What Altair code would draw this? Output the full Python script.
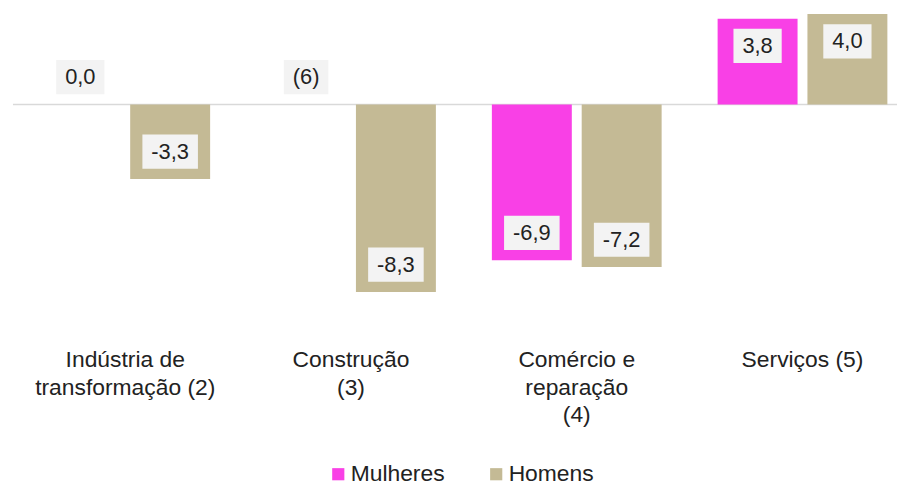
import altair as alt
import pandas as pd

categories = [
    "Indústria de\ntransformação (2)",
    "Construção\n(3)",
    "Comércio e\nreparação\n(4)",
    "Serviços (5)",
]
series = ["Mulheres", "Homens"]
mulheres = [0.0, None, -6.9, 3.8]
homens = [-3.3, -8.3, -7.2, 4.0]
mulheres_labels = ["0,0", "(6)", "-6,9", "3,8"]
homens_labels = ["-3,3", "-8,3", "-7,2", "4,0"]
colors = ["#F940E6", "#C4BA95"]

FONT = "Liberation Sans"
VAL_FS = 22
CHAR_EM = {",": 0.278, "-": 0.333, "(": 0.333, ")": 0.333}
OFF = 27.5


def box_path(label):
    w = 18 + VAL_FS * sum(CHAR_EM.get(c, 0.556) for c in label)
    hw = w / 2 / 20.0
    return f"M{-hw:.3f},-0.86H{hw:.3f}V0.86H{-hw:.3f}Z"


rows = []
for i, cat in enumerate(categories):
    rows.append({"cat": cat, "serie": series[0], "v": mulheres[i], "lab": mulheres_labels[i]})
    rows.append({"cat": cat, "serie": series[1], "v": homens[i], "lab": homens_labels[i]})
df = pd.DataFrame(rows)
df["shp"] = df["lab"].map(box_path)

x_enc = alt.X(
    "cat:N",
    sort=categories,
    scale=alt.Scale(domain=categories, paddingInner=0.248, paddingOuter=0.082, align=0.74),
    axis=alt.Axis(
        title=None,
        labelAngle=0,
        ticks=False,
        domain=False,
        labelPadding=50,
        labelFont=FONT,
        labelFontSize=23,
        labelColor="#222222",
        labelLineHeight=28,
        labelBaseline="top",
        labelLimit=0,
        labelExpr="split(datum.label, '\\n')",
    ),
)
xo_enc = alt.XOffset("serie:N", sort=series, scale=alt.Scale(domain=series, paddingInner=0.11, paddingOuter=0))
y_scale = alt.Scale(domain=[-8.6, 4.2], nice=False, zero=False)

base = alt.Chart(df)

zero_rule = alt.Chart(pd.DataFrame({"z": [0]})).mark_rule(color="#d9d9d9", strokeWidth=1.5).encode(
    y=alt.Y("z:Q", scale=y_scale, axis=None)
)

bars = base.mark_bar().encode(
    x=x_enc,
    xOffset=xo_enc,
    y=alt.Y("v:Q", scale=y_scale, axis=None),
    color=alt.Color(
        "serie:N",
        sort=series,
        scale=alt.Scale(domain=series, range=colors),
        legend=alt.Legend(
            title=None,
            orient="none",
            legendX=316,
            legendY=456,
            direction="horizontal",
            symbolType="square",
            symbolSize=150,
            symbolStrokeWidth=0,
            labelFont=FONT,
            labelFontSize=23,
            labelColor="#222222",
            columnPadding=40,
            labelOffset=1,
            padding=0,
        ),
    ),
)

pos = base.transform_filter("datum.v > 0")
nonpos = base.transform_calculate(vy="datum.v == null ? 0 : datum.v").transform_filter("!(datum.v > 0)")

box_pos = pos.mark_point(filled=True, opacity=1, size=1600, fill="#f3f3f3", strokeWidth=0, yOffset=OFF).encode(
    x=x_enc, xOffset=xo_enc, y=alt.Y("v:Q", scale=y_scale, axis=None), shape=alt.Shape("shp:N", scale=None)
)
box_neg = nonpos.mark_point(filled=True, opacity=1, size=1600, fill="#f3f3f3", strokeWidth=0, yOffset=-OFF).encode(
    x=x_enc, xOffset=xo_enc, y=alt.Y("vy:Q", scale=y_scale, axis=None), shape=alt.Shape("shp:N", scale=None)
)
txt_pos = pos.mark_text(font=FONT, fontSize=VAL_FS, color="#222222", baseline="middle", yOffset=OFF).encode(
    x=x_enc, xOffset=xo_enc, y=alt.Y("v:Q", scale=y_scale, axis=None), text="lab:N"
)
txt_neg = nonpos.mark_text(font=FONT, fontSize=VAL_FS, color="#222222", baseline="middle", yOffset=-OFF).encode(
    x=x_enc, xOffset=xo_enc, y=alt.Y("vy:Q", scale=y_scale, axis=None), text="lab:N"
)

chart = (
    alt.layer(zero_rule, bars, box_pos, box_neg, txt_pos, txt_neg)
    .properties(
        width=890,
        height=291,
        padding={"left": 4, "right": 0, "top": 0, "bottom": 0},
        background="white",
    )
    .configure_view(strokeWidth=0, stroke="transparent")
)

chart.save("out.html", embed_options={"renderer": "svg", "actions": False})
